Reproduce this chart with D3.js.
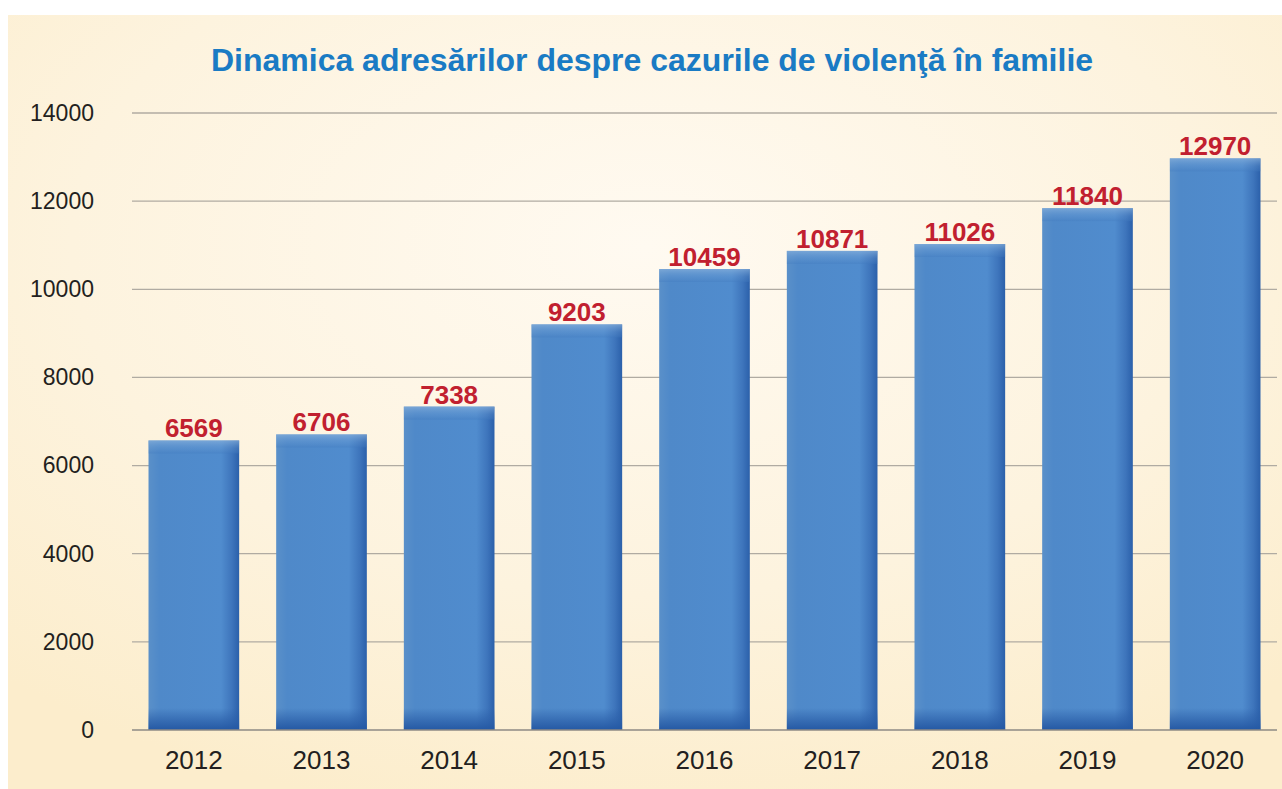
<!DOCTYPE html>
<html lang="ro">
<head>
<meta charset="utf-8">
<script src="https://d3js.org/d3.v7.min.js"></script>
<style>
    body { margin: 0; background: #fff; }
    svg text { font-family: "Liberation Sans", Arial, sans-serif; }
</style>
</head>
<body>
<svg width="1282" height="789"></svg>
<script>
var years = ["2012", "2013", "2014", "2015", "2016", "2017", "2018", "2019", "2020"];
var cases = [6569, 6706, 7338, 9203, 10459, 10871, 11026, 11840, 12970];
var yTicks = [0, 2000, 4000, 6000, 8000, 10000, 12000, 14000];
var title = "Dinamica adresărilor despre cazurile de violenţă în familie";

var svg = d3.select("svg");
var defs = svg.append("defs");

// warm background glow
var bg = defs.append("radialGradient").attr("id", "bg")
    .attr("cx", "0.5").attr("cy", "0.3").attr("r", "0.75");
bg.append("stop").attr("offset", "0").attr("stop-color", "#fffaf1");
bg.append("stop").attr("offset", "0.6").attr("stop-color", "#fdf3de");
bg.append("stop").attr("offset", "1").attr("stop-color", "#fcedcc");

var side = defs.append("linearGradient").attr("id", "side").attr("x1", 0).attr("x2", 1).attr("y1", 0).attr("y2", 0);
side.append("stop").attr("offset", "0").attr("stop-color", "#5a90c9");
side.append("stop").attr("offset", "0.12").attr("stop-color", "#4f89c9");
side.append("stop").attr("offset", "0.8").attr("stop-color", "#508cce");
side.append("stop").attr("offset", "0.92").attr("stop-color", "#3e75bc");
side.append("stop").attr("offset", "1").attr("stop-color", "#2b60aa");

var topG = defs.append("linearGradient").attr("id", "topG").attr("x1", 0).attr("x2", 0).attr("y1", 0).attr("y2", 1);
topG.append("stop").attr("offset", "0").attr("stop-color", "#8ab2dc").attr("stop-opacity", 0.7);
topG.append("stop").attr("offset", "0.6").attr("stop-color", "#6a9bd2").attr("stop-opacity", 0.3);
topG.append("stop").attr("offset", "1").attr("stop-color", "#3f78bd").attr("stop-opacity", 0.35);

var botG = defs.append("linearGradient").attr("id", "botG").attr("x1", 0).attr("x2", 0).attr("y1", 0).attr("y2", 1);
botG.append("stop").attr("offset", "0").attr("stop-color", "#2a5ea8").attr("stop-opacity", 0);
botG.append("stop").attr("offset", "0.6").attr("stop-color", "#2a5ea8").attr("stop-opacity", 0.7);
botG.append("stop").attr("offset", "1").attr("stop-color", "#2458a3").attr("stop-opacity", 1);

svg.append("rect").attr("x", 8).attr("y", 15).attr("width", 1274).attr("height", 774).attr("fill", "url(#bg)");

var x = d3.scaleBand().domain(years).range([130, 1279]).paddingInner(0.29).paddingOuter(0.145);
var y = d3.scaleLinear().domain([0, 14000]).range([730, 113]);

// grid
svg.append("g").selectAll("line").data(yTicks.slice(1)).join("line")
    .attr("x1", 132).attr("x2", 1277)
    .attr("y1", d => y(d)).attr("y2", d => y(d))
    .attr("stroke", "#b0aba2").attr("stroke-width", 1.3);

var yAxis = svg.append("g").attr("transform", "translate(132,0)")
    .call(d3.axisLeft(y).tickValues(yTicks).tickSize(0).tickPadding(38).tickFormat(d3.format("d")));
yAxis.select(".domain").remove();
yAxis.selectAll("text").attr("font-size", 23).attr("fill", "#231f20");

var bar = svg.append("g").selectAll("g").data(years).join("g");
bar.append("rect")
    .attr("x", d => x(d)).attr("y", (d, i) => y(cases[i]))
    .attr("width", x.bandwidth()).attr("height", (d, i) => y(0) - y(cases[i]))
    .attr("fill", "url(#side)");
bar.append("rect")
    .attr("x", d => x(d)).attr("y", (d, i) => y(cases[i]))
    .attr("width", x.bandwidth()).attr("height", 13)
    .attr("fill", "url(#topG)");
bar.append("rect")
    .attr("x", d => x(d)).attr("y", y(0) - 22)
    .attr("width", x.bandwidth()).attr("height", 22)
    .attr("fill", "url(#botG)");

bar.append("text")
    .attr("x", d => x(d) + x.bandwidth() / 2)
    .attr("y", (d, i) => y(cases[i]) - 3)
    .attr("text-anchor", "middle")
    .attr("font-size", 26).attr("font-weight", "bold").attr("fill", "#c1202f")
    .text((d, i) => cases[i]);

// baseline
svg.append("line").attr("x1", 132).attr("x2", 1277).attr("y1", y(0)).attr("y2", y(0))
    .attr("stroke", "#8e8a85").attr("stroke-width", 1.5);

var xAxis = svg.append("g").attr("transform", "translate(0," + y(0) + ")")
    .call(d3.axisBottom(x).tickSize(0).tickPadding(21));
xAxis.select(".domain").remove();
xAxis.selectAll("text").attr("font-size", 26).attr("fill", "#231f20");

svg.append("text").attr("x", 652).attr("y", 71).attr("text-anchor", "middle")
    .attr("font-size", 32).attr("font-weight", "bold").attr("fill", "#1a7bc4")
    .text(title);
</script>
</body>
</html>
